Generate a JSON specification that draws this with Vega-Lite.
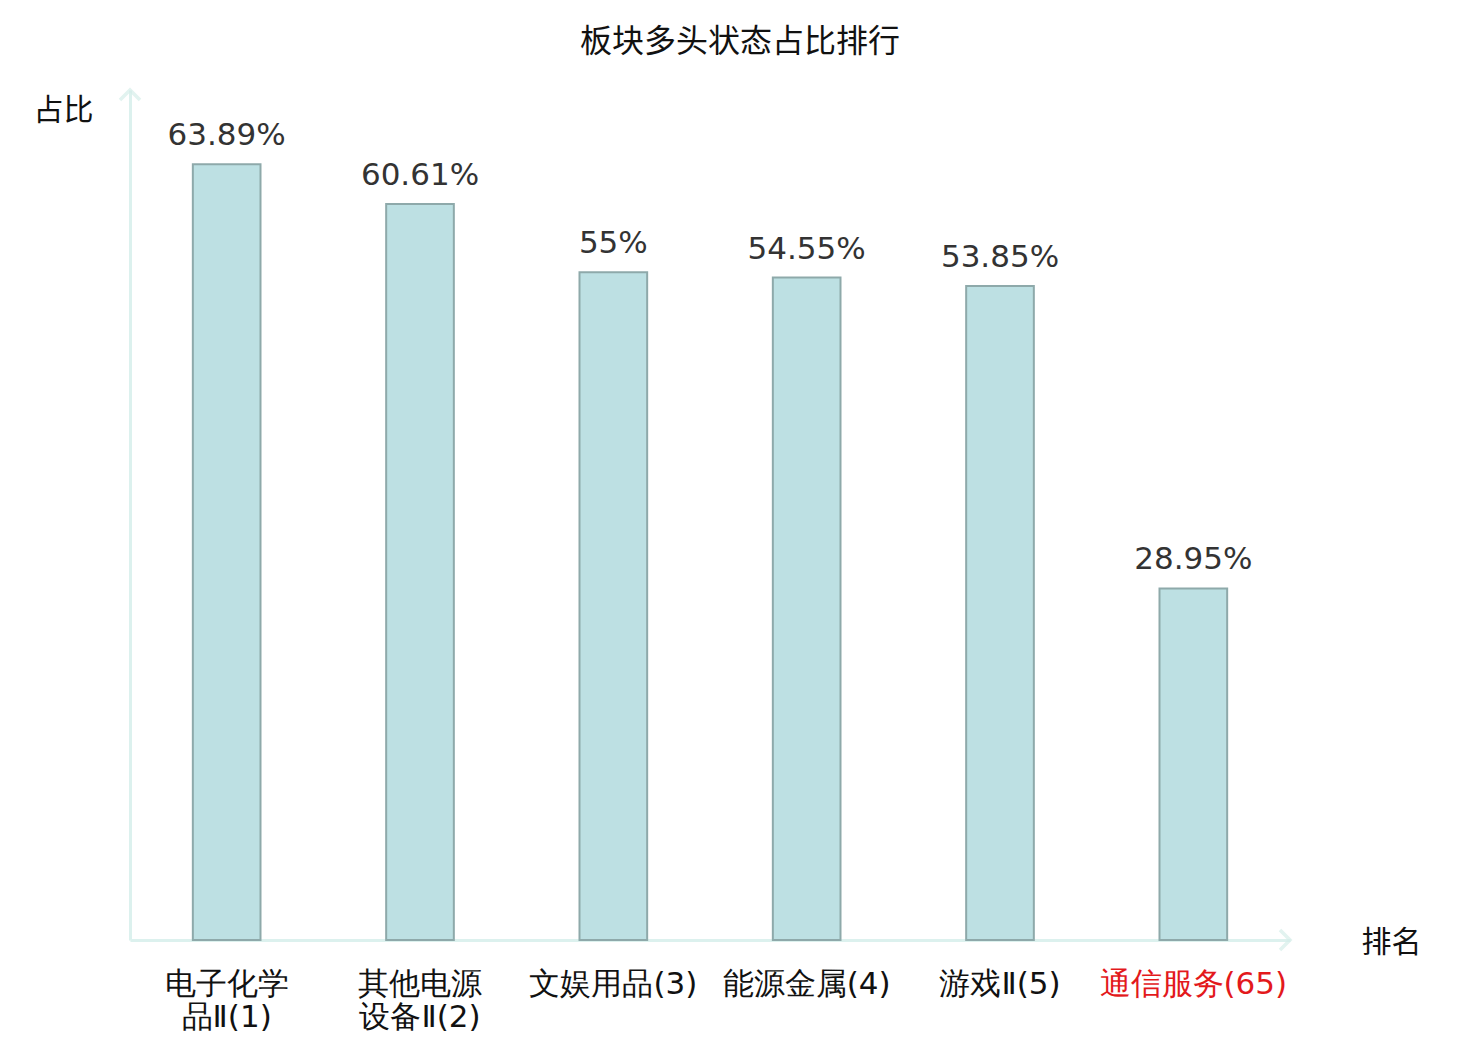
{
  "$schema": "https://vega.github.io/schema/vega-lite/v6.json",
  "autosize": {"type": "none"},
  "width": 1160,
  "height": 850,
  "padding": {"left": 130, "top": 90, "right": 190, "bottom": 100},
  "background": "white",
  "title": {
    "text": "板块多头状态占比排行",
    "anchor": "middle",
    "dx": 30,
    "offset": 24,
    "font": "Noto Sans CJK SC",
    "fontSize": 32,
    "fontWeight": "normal",
    "color": "#111111"
  },
  "config": {
    "view": {"stroke": null},
    "font": "DejaVu Sans"
  },
  "data": {
    "values": [
      {"name": "电子化学\n品Ⅱ(1)", "ratio": 63.89, "label": "63.89%"},
      {"name": "其他电源\n设备Ⅱ(2)", "ratio": 60.61, "label": "60.61%"},
      {"name": "文娱用品(3)", "ratio": 55, "label": "55%"},
      {"name": "能源金属(4)", "ratio": 54.55, "label": "54.55%"},
      {"name": "游戏Ⅱ(5)", "ratio": 53.85, "label": "53.85%"},
      {"name": "通信服务(65)", "ratio": 28.95, "label": "28.95%"}
    ]
  },
  "encoding": {
    "x": {
      "field": "name",
      "type": "nominal",
      "sort": null,
      "scale": {"paddingInner": 0.65, "paddingOuter": 0.325},
      "axis": {
        "title": "排名",
        "titleFont": "Noto Sans CJK SC",
        "titleFontSize": 30,
        "titleFontWeight": "normal",
        "titleColor": "#111111",
        "titleAngle": 0,
        "titleAlign": "center",
        "titleBaseline": "middle",
        "titleX": 1261,
        "titleY": 2,
        "labelAngle": 0,
        "labelFont": "DejaVu Sans",
        "labelFontSize": 31,
        "labelLineHeight": 33,
        "labelPadding": 29,
        "labelLimit": 400,
        "labelOverlap": false,
        "labelExpr": "split(datum.label, '\\n')",
        "labelColor": {
          "condition": {"test": "datum.value == '通信服务(65)'", "value": "#e3191c"},
          "value": "#111111"
        },
        "ticks": false,
        "domainColor": "#dcf1ee",
        "domainWidth": 3,
        "domainCap": "butt"
      }
    },
    "y": {
      "field": "ratio",
      "type": "quantitative",
      "scale": {"domain": [0, 70]},
      "axis": {
        "title": "占比",
        "titleFont": "Noto Sans CJK SC",
        "titleFontSize": 30,
        "titleFontWeight": "normal",
        "titleColor": "#111111",
        "titleAngle": 0,
        "titleAlign": "center",
        "titleBaseline": "middle",
        "titleX": -67,
        "titleY": 20,
        "labels": false,
        "ticks": false,
        "grid": false,
        "domainColor": "#dcf1ee",
        "domainWidth": 3
      }
    }
  },
  "layer": [
    {
      "mark": {"type": "bar", "fill": "#bde0e3", "stroke": "#8ea9aa", "strokeWidth": 2}
    },
    {
      "mark": {
        "type": "text",
        "baseline": "bottom",
        "dy": -12,
        "fontSize": 31,
        "font": "DejaVu Sans",
        "color": "#333333"
      },
      "encoding": {"text": {"field": "label"}}
    },
    {
      "data": {"values": [{"a": 1}]},
      "mark": {
        "type": "point",
        "shape": "M-1,1L0,0L1,1",
        "filled": false,
        "stroke": "#d6eeea",
        "strokeWidth": 3.5,
        "size": 400
      },
      "encoding": {
        "x": {"value": 0},
        "y": {"value": 0}
      }
    },
    {
      "data": {"values": [{"a": 1}]},
      "mark": {
        "type": "point",
        "shape": "M-1,1L0,0L1,1",
        "filled": false,
        "stroke": "#d6eeea",
        "strokeWidth": 3.5,
        "size": 400,
        "angle": 90
      },
      "encoding": {
        "x": {"value": "width"},
        "y": {"value": "height"}
      }
    }
  ]
}
